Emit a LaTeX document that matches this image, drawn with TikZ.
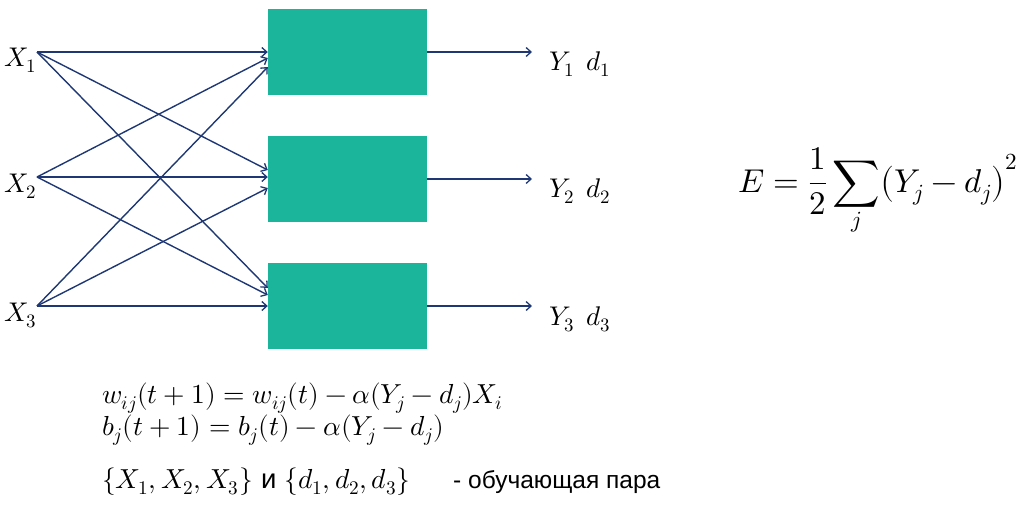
\documentclass[tikz,border=0pt]{standalone}
\usepackage{fontspec}
\usepackage{unicode-math}
\setmathfont{Latin Modern Math}
\newfontfamily\ru{Liberation Sans}
\usetikzlibrary{arrows.meta,calc}
\definecolor{teal1}{RGB}{26,181,154}
\definecolor{navy1}{RGB}{31,56,116}
\tikzset{
  unit/.style={fill=teal1, draw=none, minimum width=159pt, minimum height=86pt, inner sep=0pt},
  conn/.style={draw=navy1, line width=1.4pt, -{Straight Barb[length=5pt,width=9pt,line width=1.3pt]}},
  lab/.style={font=\fontsize{27}{32}\selectfont, inner sep=0pt},
  eq/.style={font=\fontsize{27.5}{32}\selectfont, inner sep=0pt, anchor=base west},
}
\begin{document}
\begin{tikzpicture}[x=1pt,y=-1pt]
\useasboundingbox (0,0) rectangle (1022,507);
% units
\node[unit] (b1) at (347.5,52) {};
\node[unit] (b2) at (347.5,179) {};
\node[unit] (b3) at (347.5,306) {};
% inputs
\coordinate (x1) at (37,52);
\coordinate (x2) at (37,177);
\coordinate (x3) at (37,306);
\node[lab, anchor=base east] (lx1) at (37,66) {$X_1$};
\node[lab, anchor=base east] (lx2) at (37,192) {$X_2$};
\node[lab, anchor=base east] (lx3) at (37,321) {$X_3$};
% connections
\draw[conn] (x1) -- ($(b1.west)+(0,0)$);
\draw[conn] (x2) -- ($(b1.west)+(0,6)$);
\draw[conn] (x3) -- ($(b1.west)+(0,15)$);
\draw[conn] (x1) -- ($(b2.west)+(0,-9)$);
\draw[conn] (x2) -- ($(b2.west)+(0,-2)$);
\draw[conn] (x3) -- ($(b2.west)+(0,9)$);
\draw[conn] (x1) -- ($(b3.west)+(0,-18)$);
\draw[conn] (x2) -- ($(b3.west)+(0,-11)$);
\draw[conn] (x3) -- ($(b3.west)+(0,0)$);
% outputs
\coordinate (o1) at (532,52);
\coordinate (o2) at (532,179);
\coordinate (o3) at (532,306);
\draw[conn] (b1.east) -- (o1);
\draw[conn] (b2.east) -- (o2);
\draw[conn] (b3.east) -- (o3);
\node[lab, anchor=base west] (ly1) at (549,70) {$Y_1\;\,d_1$};
\node[lab, anchor=base west] (ly2) at (549,197) {$Y_2\;\,d_2$};
\node[lab, anchor=base west] (ly3) at (549,325) {$Y_3\;\,d_3$};
% error
\node[eq, font=\fontsize{33}{38}\selectfont] (err) at (738,192) {$\displaystyle E=\frac{1}{2}\sum_{j}\bigl(Y_j-d_j\bigr)^2$};
% update rules
\node[eq] (rw) at (102,403) {$w_{ij}(t+1)=w_{ij}(t)-\alpha(Y_j-d_j)X_i$};
\node[eq] (rb) at (102,435) {$b_j(t+1)=b_j(t)-\alpha(Y_j-d_j)$};
\node[eq] (rs) at (102,488) {$\{X_1,X_2,X_3\}$ {\ru и} $\{d_1,d_2,d_3\}$};
\node[eq, font=\ru\fontsize{24.5}{28}\selectfont] (rt) at (453,488) {- обучающая пара};
\end{tikzpicture}
\end{document}
